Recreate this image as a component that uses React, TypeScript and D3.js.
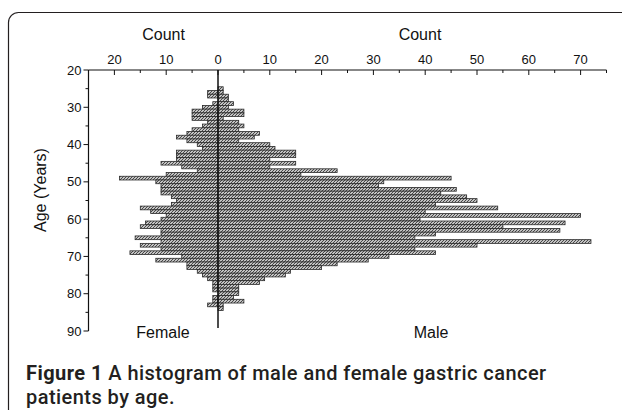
import { useEffect, useRef } from "react";
import * as d3 from "d3";

const ages = [
  25, 26, 27, 28, 29, 30, 31, 32, 33, 34, 35, 36, 37, 38, 39, 40, 41, 42, 43, 44,
  45, 46, 47, 48, 49, 50, 51, 52, 53, 54, 55, 56, 57, 58, 59, 60, 61, 62, 63, 64,
  65, 66, 67, 68, 69, 70, 71, 72, 73, 74, 75, 76, 77, 78, 79, 80, 81, 82, 83, 84,
];
const female = [
  0, 2, 2, 0, 1, 3, 5, 5, 5, 2, 3, 5, 6, 8, 6, 4, 3, 8, 8, 8,
  11, 7, 4, 10, 19, 12, 11, 11, 11, 9, 8, 9, 15, 13, 10, 11, 14, 15, 11, 11,
  16, 11, 15, 11, 17, 7, 12, 6, 6, 4, 3, 2, 1, 1, 1, 0, 1, 1, 2, 0,
];
const male = [
  1, 1, 2, 2, 3, 2, 5, 5, 1, 4, 5, 4, 8, 7, 4, 10, 11, 15, 15, 10,
  15, 10, 23, 16, 45, 32, 31, 46, 43, 48, 50, 42, 54, 40, 70, 39, 67, 55, 66, 42,
  38, 72, 50, 38, 42, 33, 29, 23, 20, 14, 13, 9, 8, 4, 4, 4, 3, 5, 1, 1,
];
const femaleTicks = [20, 10, 0];
const maleTicks = [10, 20, 30, 40, 50, 60, 70];
const ageTicks = [20, 30, 40, 50, 60, 70, 80, 90];

const FONT = "'Liberation Sans', Arial, sans-serif";

export default function App() {
  const svgRef = useRef<SVGSVGElement | null>(null);

  useEffect(() => {
    document.body.style.margin = "0";
    if (!svgRef.current) return;
    const svg = d3.select(svgRef.current);
    svg.selectAll("*").remove();

    const width = 622;
    const height = 410;
    svg.attr("width", width).attr("height", height).attr("viewBox", `0 0 ${width} ${height}`);

    const zeroX = 218;
    const xF = d3.scaleLinear().domain([0, 25]).range([zeroX, zeroX - 129.5]);
    const xM = d3.scaleLinear().domain([0, 75]).range([zeroX, zeroX + 388.5]);
    const y = d3.scaleLinear().domain([20, 90]).range([70, 331]);

    // hatch pattern
    const pat = svg.append("defs").append("pattern")
      .attr("id", "hatch").attr("patternUnits", "userSpaceOnUse")
      .attr("width", 3).attr("height", 3);
    pat.append("rect").attr("width", 3).attr("height", 3).attr("fill", "#c4c4c4");
    pat.append("path")
      .attr("d", "M-1,1 l2,-2 M0,3 l3,-3 M2,4 l2,-2")
      .attr("stroke", "#3a3a3a").attr("stroke-width", 0.9);

    // frame
    svg.append("rect")
      .attr("x", 8.5).attr("y", 12.5).attr("width", 720).attr("height", 520)
      .attr("rx", 10).attr("fill", "none").attr("stroke", "#231f20").attr("stroke-width", 1.2);

    const rows = ages.map((a, i) => ({ age: a, f: female[i], m: male[i] }));

    // female bars
    svg.append("g").selectAll("rect")
      .data(rows.filter((d) => d.f > 0))
      .join("rect")
      .attr("x", (d) => xF(d.f))
      .attr("y", (d) => y(d.age - 0.5))
      .attr("width", (d) => zeroX - xF(d.f))
      .attr("height", (d) => y(d.age + 0.5) - y(d.age - 0.5))
      .attr("fill", "url(#hatch)")
      .attr("stroke", "#2a2a2a").attr("stroke-width", 0.8);

    // male bars
    svg.append("g").selectAll("rect")
      .data(rows.filter((d) => d.m > 0))
      .join("rect")
      .attr("x", zeroX)
      .attr("y", (d) => y(d.age - 0.5))
      .attr("width", (d) => xM(d.m) - zeroX)
      .attr("height", (d) => y(d.age + 0.5) - y(d.age - 0.5))
      .attr("fill", "url(#hatch)")
      .attr("stroke", "#2a2a2a").attr("stroke-width", 0.8);

    // zero line
    svg.append("line")
      .attr("x1", zeroX).attr("x2", zeroX).attr("y1", y(20)).attr("y2", 328)
      .attr("stroke", "#111").attr("stroke-width", 1.5);

    // top axes
    const axisY = y(20);
    const ax = svg.append("g").attr("stroke", "#111");
    ax.append("line").attr("x1", xF(25)).attr("x2", xM(75))
      .attr("y1", axisY).attr("y2", axisY).attr("stroke-width", 1.2);
    const fMinor = [25, 15, 5];
    const mMinor = [5, 15, 25, 35, 45, 55, 65, 75];
    ax.selectAll(".fmaj").data(femaleTicks).join("line")
      .attr("x1", (d) => xF(d)).attr("x2", (d) => xF(d))
      .attr("y1", axisY).attr("y2", axisY + 5);
    ax.selectAll(".mmaj").data(maleTicks).join("line")
      .attr("x1", (d) => xM(d)).attr("x2", (d) => xM(d))
      .attr("y1", axisY).attr("y2", axisY + 5);
    ax.selectAll(".fmin").data(fMinor).join("line")
      .attr("x1", (d) => xF(d)).attr("x2", (d) => xF(d))
      .attr("y1", axisY).attr("y2", axisY + 3);
    ax.selectAll(".mmin").data(mMinor).join("line")
      .attr("x1", (d) => xM(d)).attr("x2", (d) => xM(d))
      .attr("y1", axisY).attr("y2", axisY + 3);

    const labels = svg.append("g").attr("font-family", FONT).attr("fill", "#111");
    labels.selectAll(".ft").data(femaleTicks).join("text")
      .attr("x", (d) => xF(d)).attr("y", axisY - 6)
      .attr("text-anchor", "middle").attr("font-size", 13)
      .text((d) => d);
    labels.selectAll(".mt").data(maleTicks).join("text")
      .attr("x", (d) => xM(d)).attr("y", axisY - 6)
      .attr("text-anchor", "middle").attr("font-size", 13)
      .text((d) => d);
    labels.append("text").attr("x", xF(10.5)).attr("y", 40)
      .attr("text-anchor", "middle").attr("font-size", 16).text("Count");
    labels.append("text").attr("x", xM(39)).attr("y", 40)
      .attr("text-anchor", "middle").attr("font-size", 16).text("Count");

    // left axis
    const axisX = xF(25);
    ax.append("line").attr("x1", axisX).attr("x2", axisX)
      .attr("y1", y(20)).attr("y2", y(90)).attr("stroke-width", 1.2);
    ax.selectAll(".ymaj").data(ageTicks).join("line")
      .attr("x1", axisX - 5).attr("x2", axisX)
      .attr("y1", (d) => y(d)).attr("y2", (d) => y(d));
    ax.selectAll(".ymin").data([25, 35, 45, 55, 65, 75, 85]).join("line")
      .attr("x1", axisX - 3).attr("x2", axisX)
      .attr("y1", (d) => y(d)).attr("y2", (d) => y(d));
    labels.selectAll(".yt").data(ageTicks).join("text")
      .attr("x", axisX - 7).attr("y", (d) => y(d) + 4.5)
      .attr("text-anchor", "end").attr("font-size", 13)
      .text((d) => d);
    labels.append("text")
      .attr("transform", `translate(46,190) rotate(-90)`)
      .attr("text-anchor", "middle").attr("font-size", 16).text("Age (Years)");

    labels.append("text").attr("x", 163).attr("y", 338)
      .attr("text-anchor", "middle").attr("font-size", 16).text("Female");
    labels.append("text").attr("x", 431).attr("y", 338)
      .attr("text-anchor", "middle").attr("font-size", 16).text("Male");

    // caption
    const cap = svg.append("g").attr("font-family", "Roboto, sans-serif")
      .attr("fill", "#231f20").attr("font-size", 20).attr("letter-spacing", 0.45);
    const l1 = cap.append("text").attr("x", 26).attr("y", 380);
    l1.append("tspan").attr("font-weight", "bold").text("Figure 1");
    l1.append("tspan").attr("font-weight", 500).text(" A histogram of male and female gastric cancer");
    cap.append("text").attr("x", 26).attr("y", 404).attr("font-weight", 500)
      .text("patients by age.");
  }, []);

  return <svg ref={svgRef} style={{ display: "block" }} />;
}
